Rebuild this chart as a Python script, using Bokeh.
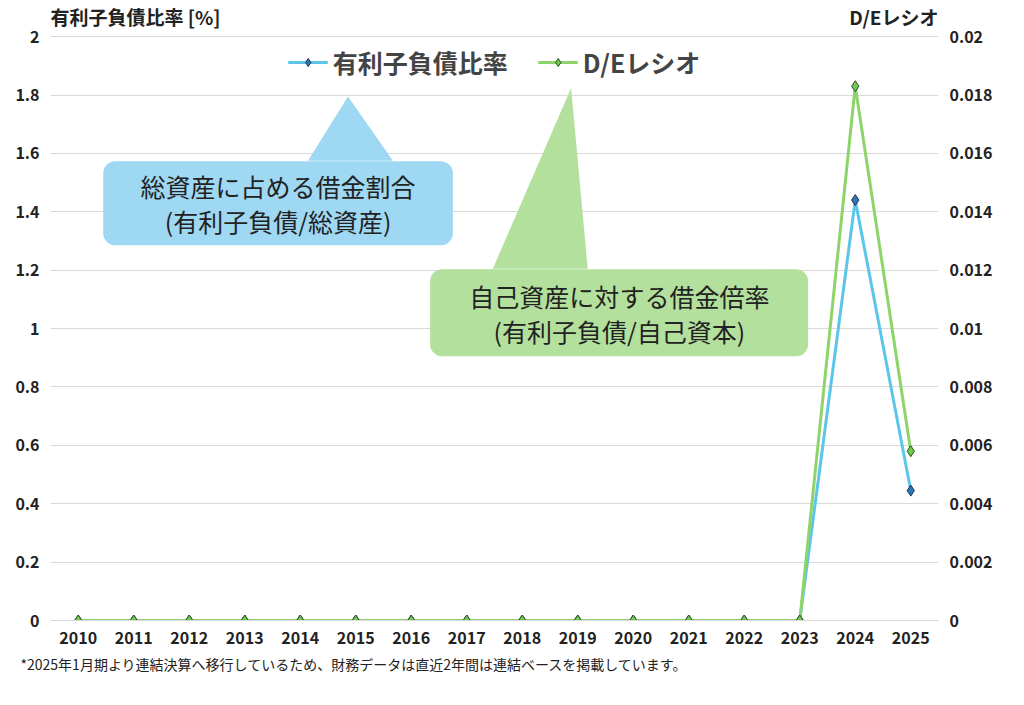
from bokeh.plotting import figure
from bokeh.models import (Range1d, LinearAxis, FixedTicker, Label, BoxAnnotation,
                          PolyAnnotation, Legend, LegendItem, Title)
from bokeh.embed import file_html
from bokeh.resources import INLINE

years = [str(y) for y in range(2010, 2026)]
debt_ratio = [0] * 14 + [1.44, 0.445]
de_ratio = [0] * 14 + [0.0183, 0.0058]

FONT = "Noto Sans CJK JP"
x = list(range(len(years)))

p = figure(width=1000, height=680, output_backend="svg", toolbar_location=None,
           x_range=Range1d(-0.5, 15.5), y_range=Range1d(0, 2.11),
           min_border_left=50, min_border_right=62, min_border_top=4, min_border_bottom=60)
p.outline_line_color = None
p.xgrid.grid_line_color = None
p.ygrid.grid_line_color = "#d9d9d9"
p.ygrid.ticker = FixedTicker(ticks=[i / 5 for i in range(11)])

p.xaxis.ticker = FixedTicker(ticks=x)
p.xaxis.major_label_overrides = {i: y for i, y in enumerate(years)}
p.xaxis.axis_line_color = "#d9d9d9"
p.xaxis.major_tick_line_color = None
p.xaxis.minor_tick_line_color = None

p.yaxis.ticker = FixedTicker(ticks=[i / 5 for i in range(11)])
p.yaxis.major_label_overrides = {i / 5: ("%g" % (i / 5)) for i in range(11)}

p.extra_y_ranges = {"de": Range1d(0, 0.0211)}
right = LinearAxis(y_range_name="de", ticker=FixedTicker(ticks=[i / 500 for i in range(11)]))
right.major_label_overrides = {i / 500: ("%g" % (i / 500)) for i in range(11)}
p.add_layout(right, "right")

for ax in p.xaxis + p.yaxis:
    ax.major_label_text_font = FONT
    ax.major_label_text_font_style = "bold"
    ax.major_label_text_font_size = "16px"
    ax.major_label_text_color = "#222222"
for ax in p.yaxis:
    ax.axis_line_color = None
    ax.major_tick_line_color = None
    ax.minor_tick_line_color = None

l1 = p.line(x, debt_ratio, line_color="#5BC5EA", line_width=3)
m1 = p.scatter(x, debt_ratio, marker="diamond", size=11, fill_color="#2E75B6", line_color="#1F3550")
l2 = p.line(x, de_ratio, y_range_name="de", line_color="#8ED46A", line_width=3)
m2 = p.scatter(x, de_ratio, y_range_name="de", marker="diamond", size=11, fill_color="#6CCB4A", line_color="#2F4F2F")

legend = Legend(items=[LegendItem(label="有利子負債比率", renderers=[l1, m1]),
                       LegendItem(label="D/Eレシオ", renderers=[l2, m2])],
                orientation="horizontal", location="top_center",
                label_text_font=FONT, label_text_font_style="bold", label_text_font_size="25px",
                border_line_color=None, background_fill_alpha=0, spacing=30, glyph_width=40,
                margin=40)
p.add_layout(legend)

# callouts
p.add_layout(PolyAnnotation(xs=[4.14, 4.86, 5.67], ys=[1.575, 1.795, 1.575],
                            fill_color="#9ED8F3", fill_alpha=1, line_color=None))
p.add_layout(BoxAnnotation(left=0.45, right=6.75, bottom=1.285, top=1.573,
                           fill_color="#9ED8F3", fill_alpha=1, line_color=None, border_radius=12))
p.add_layout(PolyAnnotation(xs=[7.47, 8.88, 9.18], ys=[1.205, 1.824, 1.205],
                            fill_color="#B3E09C", fill_alpha=1, line_color=None))
p.add_layout(BoxAnnotation(left=6.34, right=13.15, bottom=0.905, top=1.203,
                           fill_color="#B3E09C", fill_alpha=1, line_color=None, border_radius=12))

def txt(xv, yv, s, size="25px", bold=False, align="center", color="#222222"):
    p.add_layout(Label(x=xv, y=yv, text=s, text_font=FONT, text_font_size=size,
                       text_font_style="bold" if bold else "normal", text_align=align,
                       text_baseline="middle", text_color=color))

txt(3.6, 1.49, "総資産に占める借金割合")
txt(3.6, 1.37, "(有利子負債/総資産)")
txt(9.75, 1.11, "自己資産に対する借金倍率")
txt(9.75, 0.99, "(有利子負債/自己資本)")
txt(-0.5, 2.07, "有利子負債比率 [%]", size="19px", bold=True, align="left")
txt(15.5, 2.07, "D/Eレシオ", size="19px", bold=True, align="right")

p.add_layout(Title(text="*2025年1月期より連結決算へ移行しているため、財務データは直近2年間は連結ベースを掲載しています。",
                   text_font=FONT, text_font_size="14px", text_font_style="normal",
                   text_color="#222222", align="left", offset=-30), "below")

open("out.html", "w").write(file_html(p, INLINE))
